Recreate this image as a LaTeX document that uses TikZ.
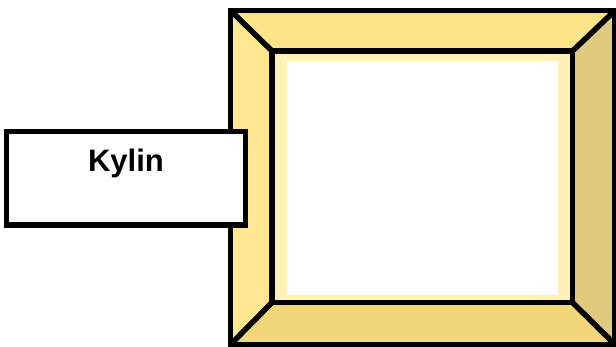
\documentclass[tikz,border=0pt]{standalone}
\usepackage{fontspec}
\setmainfont{Liberation Sans}
\definecolor{bevtop}{HTML}{FFE48A}
\definecolor{bevleft}{HTML}{FFE690}
\definecolor{bevbot}{HTML}{F2D77A}
\definecolor{bevright}{HTML}{E0CA7E}
\definecolor{matte}{HTML}{FFF0B3}
\tikzset{kylinbox/.style={draw,fill=white,line width=5.5pt,minimum width=239pt,minimum height=93.5pt,inner sep=0pt}}
\begin{document}
\begin{tikzpicture}[x=1pt,y=-1pt,line width=5.5pt]
\useasboundingbox (0,0) rectangle (616,347);
% bevels of the frame
\fill[bevtop] (230.5,10.5) -- (615,10.5) -- (572.5,51) -- (272,51) -- cycle;
\fill[bevleft] (230.5,10.5) -- (272,51) -- (272,302.5) -- (230.5,344.5) -- cycle;
\fill[bevbot] (230.5,344.5) -- (272,302.5) -- (572.5,302.5) -- (615,344.5) -- cycle;
\fill[bevright] (615,10.5) -- (572.5,51) -- (572.5,302.5) -- (615,344.5) -- cycle;
\fill[matte] (272,51) rectangle (572.5,302.5);
\fill[white] (286.7,60.7) rectangle (557.7,295);
%
\draw (230.5,10.5) rectangle (615,344.5);
\draw (272,51) rectangle (572.5,302.5);
\draw (230.5,10.5) -- (272,51) (615,10.5) -- (572.5,51)
      (230.5,344.5) -- (272,302.5) (615,344.5) -- (572.5,302.5);
%
\node[kylinbox] (kylin) at (126,178.25) {};
\node[font=\bfseries\fontsize{31}{37}\selectfont,inner sep=0pt] (kylinlbl) at (126,163.5) {Kylin};
\end{tikzpicture}
\end{document}
